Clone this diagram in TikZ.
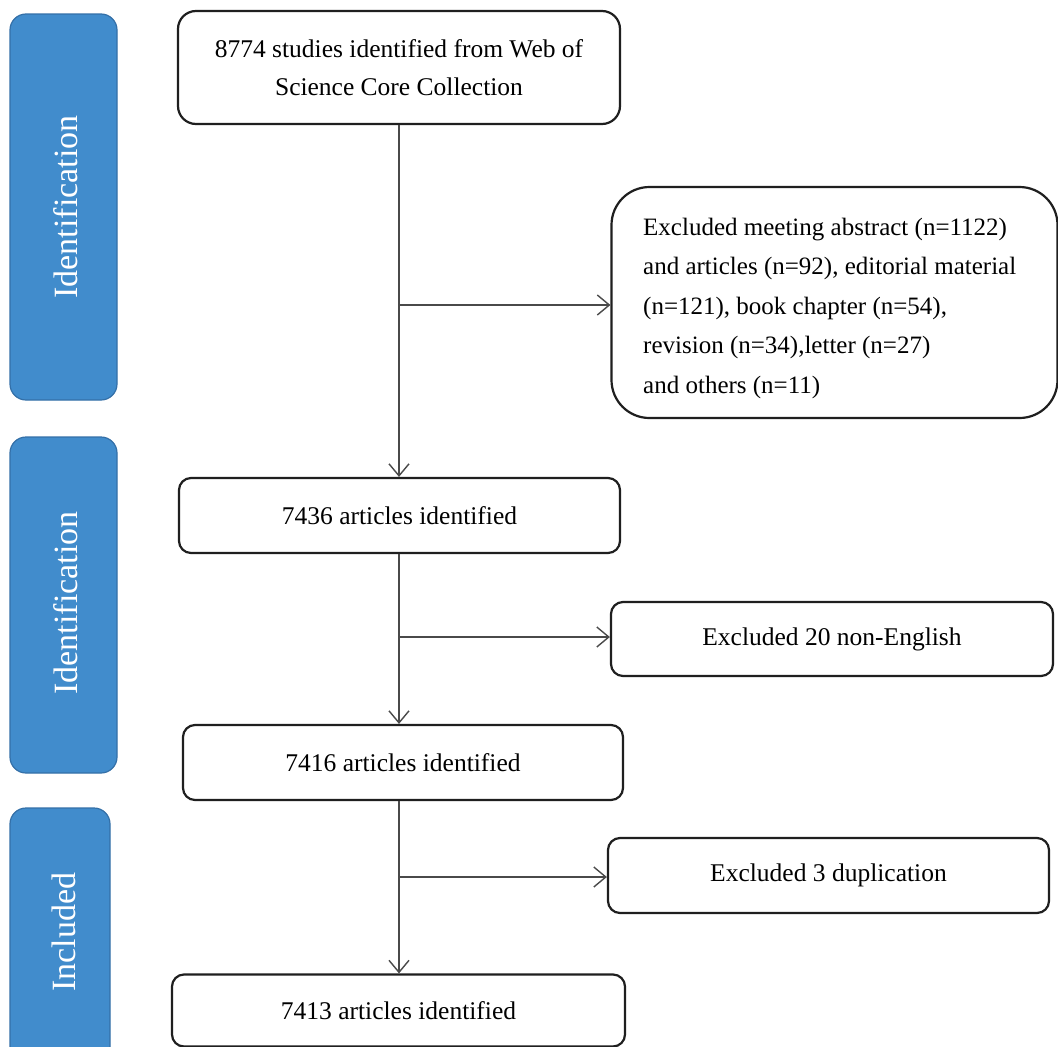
\documentclass[tikz,border=0pt]{standalone}
\usepackage{fontspec}
\setmainfont{Liberation Serif}
\usetikzlibrary{arrows.meta}
\definecolor{stageblue}{HTML}{418CCC}
\definecolor{stageedge}{HTML}{3470A8}
\definecolor{linegray}{HTML}{4A4A4A}
\tikzset{
  flowbox/.style={draw=black!88, line width=2.2pt, fill=white, rounded corners=12pt,
    font=\fontsize{25.5}{38}\selectfont, align=center, inner sep=0pt},
  stagebox/.style={draw=stageedge, line width=1.2pt, fill=stageblue, rounded corners=16pt, inner sep=0pt},
  stagetext/.style={text=white, font=\fontsize{34}{40}\selectfont, rotate=90},
  flowarrow/.style={draw=linegray, line width=1.4pt, -{Straight Barb[length=12pt,width=20pt,line width=1.4pt]}},
}
\begin{document}
\begin{tikzpicture}[x=1pt,y=-1pt]
\useasboundingbox (0,0) rectangle (1058,1047);
\clip (0,0) rectangle (1058,1047);
\fill[white] (0,0) rectangle (1058,1047);

% stage boxes
\node[stagebox, minimum width=107pt, minimum height=386pt] (s1) at (63.5,207) {};
\node[stagetext] (s1t) at (66,207) {Identification};
\node[stagebox, minimum width=107pt, minimum height=336pt] (s2) at (63.5,605) {};
\node[stagetext] (s2t) at (66,603) {Identification};
\node[stagebox, minimum width=100pt, minimum height=260pt] (s3) at (60,938) {};
\node[stagetext] (s3t) at (64,932) {Included};

% main flow
\node[flowbox, rounded corners=18pt, minimum width=442pt, minimum height=113pt] (top) at (399,67.5)
  {8774 studies identified from Web of\\Science Core Collection};
\node[flowbox, minimum width=441pt, minimum height=75pt] (a1) at (399.5,515.5) {7436 articles identified};
\node[flowbox, minimum width=440pt, minimum height=75pt] (a2) at (403,762.5) {7416 articles identified};
\node[flowbox, minimum width=453pt, minimum height=72pt] (a3) at (398.5,1010.5) {7413 articles identified};

% exclusion boxes
\node[flowbox, rounded corners=38pt, minimum width=446pt, minimum height=231pt] (e1) at (834.5,302.5) {};
\node[anchor=west, inner sep=0pt, align=left, font=\fontsize{25}{39.5}\selectfont] (e1t) at (643,308)
  {Excluded meeting abstract (n=1122)\\
   and articles (n=92), editorial material\\
   (n=121), book chapter (n=54),\\
   revision (n=34),letter (n=27)\\
   and others (n=11)};
\node[flowbox, minimum width=442pt, minimum height=74pt] (e2) at (832,639) {Excluded 20 non-English};
\node[flowbox, minimum width=441pt, minimum height=75pt] (e3) at (828.5,875.5) {Excluded 3 duplication};

% connectors
\coordinate (j1) at (399,305);
\coordinate (j2) at (399,637);
\coordinate (j3) at (399,877);
\draw[flowarrow] (top.south -| j1) -- (a1.north -| j1);
\draw[flowarrow] (j1) -- (j1 -| e1.west);
\draw[flowarrow] (a1.south -| j2) -- (a2.north -| j2);
\draw[flowarrow] (j2) -- (j2 -| e2.west);
\draw[flowarrow] (a2.south -| j3) -- (a3.north -| j3);
\draw[flowarrow] (j3) -- (j3 -| e3.west);
\end{tikzpicture}
\end{document}
